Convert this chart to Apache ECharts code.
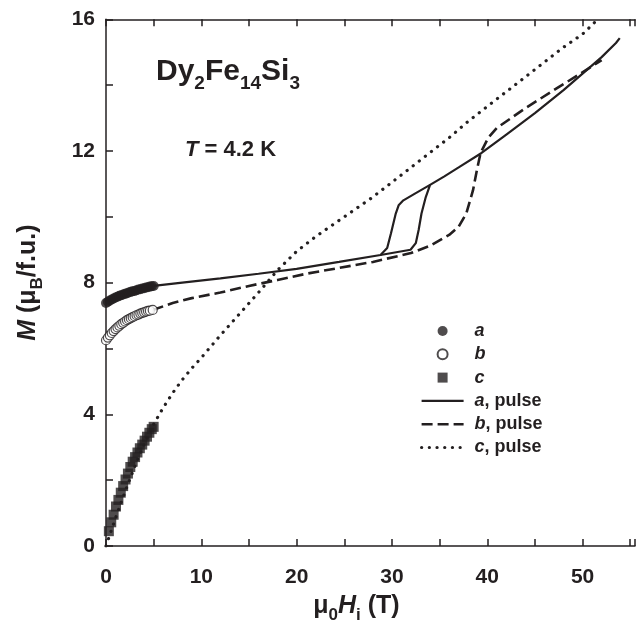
<!DOCTYPE html>
<html><head><meta charset="utf-8">
<script src="https://cdn.jsdelivr.net/npm/echarts@6/dist/echarts.min.js"></script>
<style>html,body{margin:0;padding:0;background:#fff}#c{width:638px;height:631px}</style>
</head><body><div id="c"></div><script>
// ---- data ----
const xTickLabels = [0, 10, 20, 30, 40, 50];
const yTickLabels = [0, 4, 8, 12, 16];

const aStaticX = [0.0,0.2,0.4,0.6,0.8,1.0,1.2,1.4,1.6,1.8,2.0,2.2,2.4,2.6,2.8,3.0,3.2,3.4,3.6,3.8,4.0,4.2,4.4,4.6,4.8,5.0];
const aStaticM = [7.38,7.42,7.46,7.49,7.52,7.55,7.57,7.60,7.62,7.64,7.66,7.68,7.70,7.72,7.74,7.75,7.77,7.79,7.80,7.82,7.83,7.85,7.86,7.88,7.89,7.90];

const bStaticX = [0.0,0.2,0.4,0.6,0.8,1.0,1.2,1.4,1.6,1.8,2.0,2.2,2.4,2.6,2.8,3.0,3.2,3.4,3.6,3.8,4.0,4.2,4.4,4.6,4.9];
const bStaticM = [6.25,6.33,6.40,6.47,6.53,6.59,6.64,6.69,6.74,6.78,6.82,6.86,6.89,6.92,6.95,6.98,7.01,7.03,7.06,7.08,7.10,7.12,7.14,7.15,7.17];

const cStaticX = [0.3,0.55,0.8,1.05,1.3,1.55,1.8,2.05,2.3,2.55,2.8,3.05,3.3,3.55,3.8,4.05,4.3,4.55,4.8,5.0];
const cStaticM = [0.45,0.72,0.95,1.2,1.4,1.62,1.82,2.02,2.2,2.4,2.56,2.7,2.84,2.97,3.08,3.2,3.32,3.44,3.55,3.62];

// a, pulse : field-up branch (lower line, jump at ~33 T, upper line to 54 T)
const aUpX = [5,8,12,16,20,24.45,28.8,31.95,32.5,32.8,33.1,33.55,34.0,35.5,37.0,39.4,42,45,48,50,52,53.5,53.9];
const aUpM = [7.9,8.0,8.13,8.27,8.42,8.63,8.84,9.0,9.2,9.6,10.1,10.6,10.97,11.23,11.5,11.94,12.5,13.15,13.85,14.35,14.85,15.28,15.43];
// a, pulse : field-down branch jump at ~30 T
const aDownX = [34.0,32.5,31.2,30.7,30.4,29.9,29.5,28.8];
const aDownM = [10.97,10.72,10.5,10.35,10.1,9.5,9.05,8.84];

const bPulseX = [4.9,7,9,12,15,18,21,24.5,28,32,34,36,37,37.8,38.2,38.5,38.9,39.3,40.1,41,44,47,49.5,52];
const bPulseM = [7.17,7.38,7.53,7.7,7.9,8.08,8.27,8.45,8.63,8.9,9.12,9.45,9.7,10.1,10.5,10.8,11.4,11.94,12.4,12.7,13.3,13.85,14.3,14.76];

const cPulseX = [0,1,2,3,4,5,6,7,8,9,10,11,12,14,16,18,20,22,24,26,28,30,32,34,36,38,40,42,44,46,48,50,51.6];
const cPulseM = [0,0.85,1.65,2.4,3.1,3.7,4.2,4.65,5.05,5.4,5.72,6.06,6.4,7.05,7.7,8.38,8.95,9.4,9.8,10.2,10.6,11.05,11.5,11.95,12.4,12.9,13.35,13.8,14.25,14.7,15.15,15.55,16.0];

// ---- chart ----
const zip = (xs, ys) => xs.map((x, i) => [x, ys[i]]);
const INK = '#231f20';
const FONT = '"Liberation Sans", Arial, Helvetica, sans-serif';

const chart = echarts.init(document.getElementById('c'), null, {renderer: 'canvas'});

const axisCommon = {
  axisLine: {lineStyle: {color: INK, width: 1.5}},
  axisTick: {inside: true, length: 7, lineStyle: {color: INK, width: 1.5}},
  splitLine: {show: false}
};

const titleRich = {
  n: {fontSize: 25, fontWeight: 'bold', color: INK, fontFamily: FONT, lineHeight: 30, verticalAlign: 'top', padding: [0,0,7,0]},
  i: {fontSize: 25, fontWeight: 'bold', fontStyle: 'italic', color: INK, fontFamily: FONT, lineHeight: 30, verticalAlign: 'top', padding: [0,0,7,0]},
  s: {fontSize: 17, fontWeight: 'bold', color: INK, fontFamily: FONT, lineHeight: 18, verticalAlign: 'bottom'}
};

const solidStyle = {color: INK, width: 2.2};
const dashStyle = {color: INK, width: 2.6, type: [11, 5]};
const dotStyle = {color: INK, width: 3.2, type: [0.1, 7.6], cap: 'round'};

const lineSeries = (name, data, lineStyle) => ({
  name, type: 'line', data, showSymbol: false, symbol: 'none', smooth: false,
  lineStyle, itemStyle: {color: INK}, z: 2
});

const hiddenSym = {color: 'rgba(0,0,0,0)', borderColor: 'rgba(0,0,0,0)', borderWidth: 0};

chart.setOption({
  animation: false,
  backgroundColor: '#fff',
  textStyle: {fontFamily: FONT},
  grid: {left: 106, top: 19.3, right: 1.1, bottom: 85, containLabel: false},
  xAxis: [
    Object.assign({}, axisCommon, {
      type: 'value', min: 0, max: 55.5, interval: 5, position: 'bottom',
      axisLabel: {
        margin: 21, color: INK, fontSize: 21, fontWeight: 'bold', fontFamily: FONT,
        formatter: v => xTickLabels.includes(v) ? String(v) : ''
      },
      name: '{n|μ}{s|0}{i|H}{s|i}{n| (T)}',
      nameLocation: 'middle', nameGap: 48,
      nameTextStyle: {color: INK, fontFamily: FONT, rich: titleRich, padding: [0, 28, 0, 0]}
    }),
    Object.assign({}, axisCommon, {
      type: 'value', min: 0, max: 55.5, interval: 5, position: 'top',
      axisLabel: {show: false}
    })
  ],
  yAxis: [
    Object.assign({}, axisCommon, {
      type: 'value', min: 0, max: 16, interval: 2,
      axisLabel: {
        margin: 11, color: INK, fontSize: 21, fontWeight: 'bold', fontFamily: FONT,
        formatter: v => yTickLabels.includes(v) ? String(v) : ''
      },
      name: '{i|M}{n| (μ}{s|B}{n|/f.u.)}',
      nameLocation: 'middle', nameGap: 60, nameRotate: 90,
      nameTextStyle: {color: INK, fontFamily: FONT, rich: titleRich}
    })
  ],
  legend: {
    orient: 'vertical', left: 420, top: 322, padding: 0,
    itemWidth: 42, itemHeight: 10, itemGap: 5.3,
    data: [
      {name: 'a', icon: 'circle'},
      {name: 'b', icon: 'circle'},
      {name: 'c', icon: 'path://M0,0L10,0L10,10L0,10Z'},
      {name: 'a, pulse', itemStyle: hiddenSym, lineStyle: solidStyle},
      {name: 'b, pulse', itemStyle: hiddenSym, lineStyle: dashStyle},
      {name: 'c, pulse', itemStyle: hiddenSym, lineStyle: dotStyle}
    ],
    formatter: name => {
      const m = name.match(/^([abc])(.*)$/);
      return m[2] ? '{i|' + m[1] + '}{n|' + m[2] + '}' : '{i|' + m[1] + '}';
    },
    textStyle: {
      padding: [0, 0, 0, 6],
      rich: {
        i: {fontSize: 18, fontWeight: 'bold', fontStyle: 'italic', color: INK, fontFamily: FONT, lineHeight: 20},
        n: {fontSize: 18, fontWeight: 'bold', color: INK, fontFamily: FONT, lineHeight: 20}
      }
    }
  },
  graphic: [
    {
      type: 'text', left: 156, top: 57, z: 10,
      style: {
        text: '{b|Dy}{s|2}{b|Fe}{s|14}{b|Si}{s|3}',
        fill: INK,
        rich: {
          b: {fontSize: 30, fontWeight: 'bold', fontFamily: FONT, fill: INK, lineHeight: 36, verticalAlign: 'top', padding: [0,0,10,0]},
          s: {fontSize: 19, fontWeight: 'bold', fontFamily: FONT, fill: INK, lineHeight: 20, verticalAlign: 'bottom'}
        }
      }
    },
    {
      type: 'text', left: 185, top: 139, z: 10,
      style: {
        text: '{i|T}{n| = 4.2 K}',
        fill: INK,
        rich: {
          i: {fontSize: 22, fontWeight: 'bold', fontStyle: 'italic', fontFamily: FONT, fill: INK},
          n: {fontSize: 22, fontWeight: 'bold', fontFamily: FONT, fill: INK}
        }
      }
    }
  ],
  series: [
    lineSeries('c, pulse', zip(cPulseX, cPulseM), dotStyle),
    lineSeries('b, pulse', zip(bPulseX, bPulseM), dashStyle),
    lineSeries('a, pulse', zip(aUpX, aUpM), solidStyle),
    lineSeries('a, pulse', zip(aDownX, aDownM), solidStyle),
    {name: 'a', type: 'scatter', data: zip(aStaticX, aStaticM), symbol: 'circle', symbolSize: 10,
     itemStyle: {color: INK}, z: 5},
    {name: 'b', type: 'scatter', data: zip(bStaticX, bStaticM), symbol: 'circle', symbolSize: 9,
     itemStyle: {color: '#fff', borderColor: INK, borderWidth: 1.2}, z: 5},
    {name: 'c', type: 'scatter', data: zip(cStaticX, cStaticM), symbol: 'rect', symbolSize: 10,
     itemStyle: {color: INK}, z: 5}
  ]
});
</script></body></html>
